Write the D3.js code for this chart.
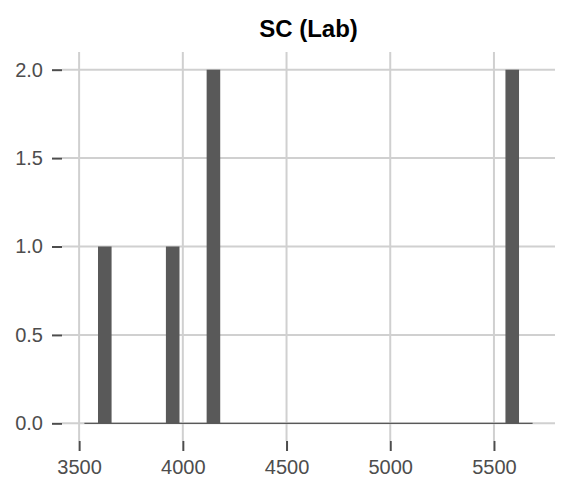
<!DOCTYPE html>
<html>
<head>
<meta charset="utf-8">
<script src="https://cdn.jsdelivr.net/npm/d3@7"></script>
<style>
  html, body { margin: 0; padding: 0; background: #fff; }
  svg { display: block; font-family: "Liberation Sans", Arial, Helvetica, sans-serif; }
</style>
</head>
<body>
<script>
// ---- data ----
const title = "SC (Lab)";
const binEdges = [3525.5, 3591.0, 3656.5, 3721.9, 3787.4, 3852.9, 3918.4, 3983.9, 4049.3, 4114.8,
                  4180.3, 4245.8, 4311.3, 4376.7, 4442.2, 4507.7, 4573.2, 4638.7, 4704.1, 4769.6,
                  4835.1, 4900.6, 4966.1, 5031.5, 5097.0, 5162.5, 5228.0, 5293.5, 5358.9, 5424.4,
                  5489.9, 5555.4, 5620.9, 5686.3];
const binCounts = [0, 1, 0, 0, 0, 0, 1, 0, 0, 2,
                   0, 0, 0, 0, 0, 0, 0, 0, 0, 0,
                   0, 0, 0, 0, 0, 0, 0, 0, 0, 0,
                   0, 2, 0];
const xTicks = [3500, 4000, 4500, 5000, 5500];
const yTicks = [0.0, 0.5, 1.0, 1.5, 2.0];

const bins = binCounts.map((c, i) => ({ x0: binEdges[i], x1: binEdges[i + 1], count: c }));

// ---- layout ----
const W = 562, H = 481;
const panel = { left: 62, right: 555, top: 52, bottom: 441 };

const svg = d3.select("body").append("svg").attr("width", W).attr("height", H);

const xMin = binEdges[0], xMax = binEdges[binEdges.length - 1];
const xPad = (xMax - xMin) * 0.05;
const x = d3.scaleLinear().domain([xMin - xPad, xMax + xPad]).range([panel.left, panel.right]);
const yMax = d3.max(binCounts);
const yPad = yMax * 0.05;
const y = d3.scaleLinear().domain([-yPad, yMax + yPad]).range([panel.bottom, panel.top]);

const grid = "#d0d0d0";
const ink = "#4d4d4d";
const barFill = "#595959";

// gridlines
svg.append("g").selectAll("line").data(yTicks).join("line")
  .attr("x1", panel.left).attr("x2", panel.right)
  .attr("y1", d => y(d)).attr("y2", d => y(d))
  .attr("stroke", grid).attr("stroke-width", 2);
svg.append("g").selectAll("line").data(xTicks).join("line")
  .attr("x1", d => x(d)).attr("x2", d => x(d))
  .attr("y1", panel.top).attr("y2", panel.bottom)
  .attr("stroke", grid).attr("stroke-width", 2);

// bars
svg.append("g").selectAll("rect").data(bins.filter(b => b.count > 0)).join("rect")
  .attr("x", d => x(d.x0)).attr("width", d => x(d.x1) - x(d.x0))
  .attr("y", d => y(d.count)).attr("height", d => y(0) - y(d.count))
  .attr("fill", barFill);
// zero-height bins drawn as baseline
svg.append("line")
  .attr("x1", x(xMin)).attr("x2", x(xMax))
  .attr("y1", y(0)).attr("y2", y(0))
  .attr("stroke", barFill).attr("stroke-width", 1.2);

// axes
const xAxis = d3.axisBottom(x).tickValues(xTicks).tickFormat(d3.format("d"))
  .tickSize(10).tickPadding(9);
const gx = svg.append("g").attr("transform", `translate(0,${panel.bottom})`).call(xAxis);
gx.select(".domain").remove();
gx.selectAll(".tick line").attr("stroke", ink).attr("stroke-width", 2);
gx.selectAll(".tick text").attr("fill", ink).attr("font-size", 20)
  .attr("font-family", "'Liberation Sans', Arial, sans-serif");

const yAxis = d3.axisLeft(y).tickValues(yTicks).tickFormat(d3.format(".1f"))
  .tickSize(10).tickPadding(9);
const gy = svg.append("g").attr("transform", `translate(${panel.left},0)`).call(yAxis);
gy.select(".domain").remove();
gy.selectAll(".tick line").attr("stroke", ink).attr("stroke-width", 2);
gy.selectAll(".tick text").attr("fill", ink).attr("font-size", 20)
  .attr("font-family", "'Liberation Sans', Arial, sans-serif");

// title
svg.append("text")
  .attr("x", (panel.left + panel.right) / 2).attr("y", 37)
  .attr("text-anchor", "middle")
  .attr("font-size", 24).attr("font-weight", "bold").attr("fill", "#000")
  .text(title);
</script>
</body>
</html>
